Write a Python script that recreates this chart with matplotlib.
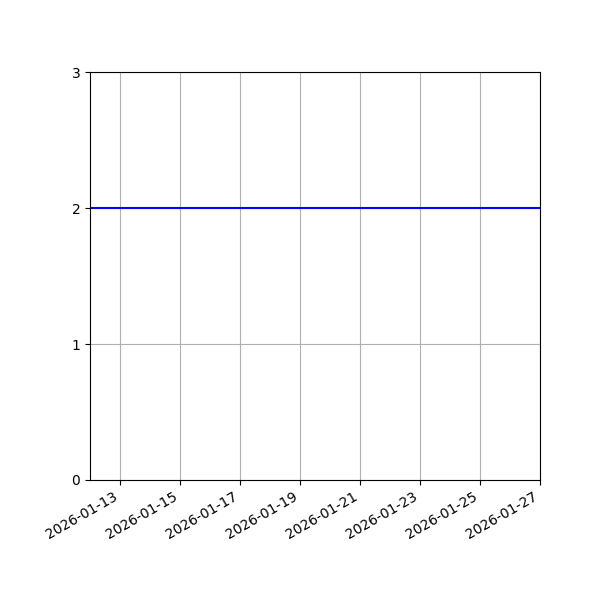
import datetime as dt
import matplotlib
matplotlib.use("Agg")
import matplotlib.pyplot as plt
import matplotlib.dates as mdates

# data: one flat series across the window
dates = [dt.date(2026, 1, 12), dt.date(2026, 1, 27)]
values = [2, 2]
y_ticks = [0, 1, 2, 3]

fig, ax = plt.subplots(figsize=(6, 6), dpi=100)
fig.subplots_adjust(left=0.15, right=0.9, top=0.88, bottom=0.2)

ax.plot(dates, values, color="blue", linewidth=1.5)
ax.set_xlim(dates[0], dates[-1])
ax.set_ylim(y_ticks[0], y_ticks[-1])
ax.set_yticks(y_ticks)
ax.xaxis.set_major_locator(mdates.DayLocator(bymonthday=range(13, 32, 2)))
ax.xaxis.set_major_formatter(mdates.DateFormatter("%Y-%m-%d"))
ax.grid(True, color="#b0b0b0", linewidth=0.8)

for lbl in ax.get_xticklabels():
    lbl.set_rotation(30)
    lbl.set_ha("right")

fig.savefig("out.png", dpi=100)
